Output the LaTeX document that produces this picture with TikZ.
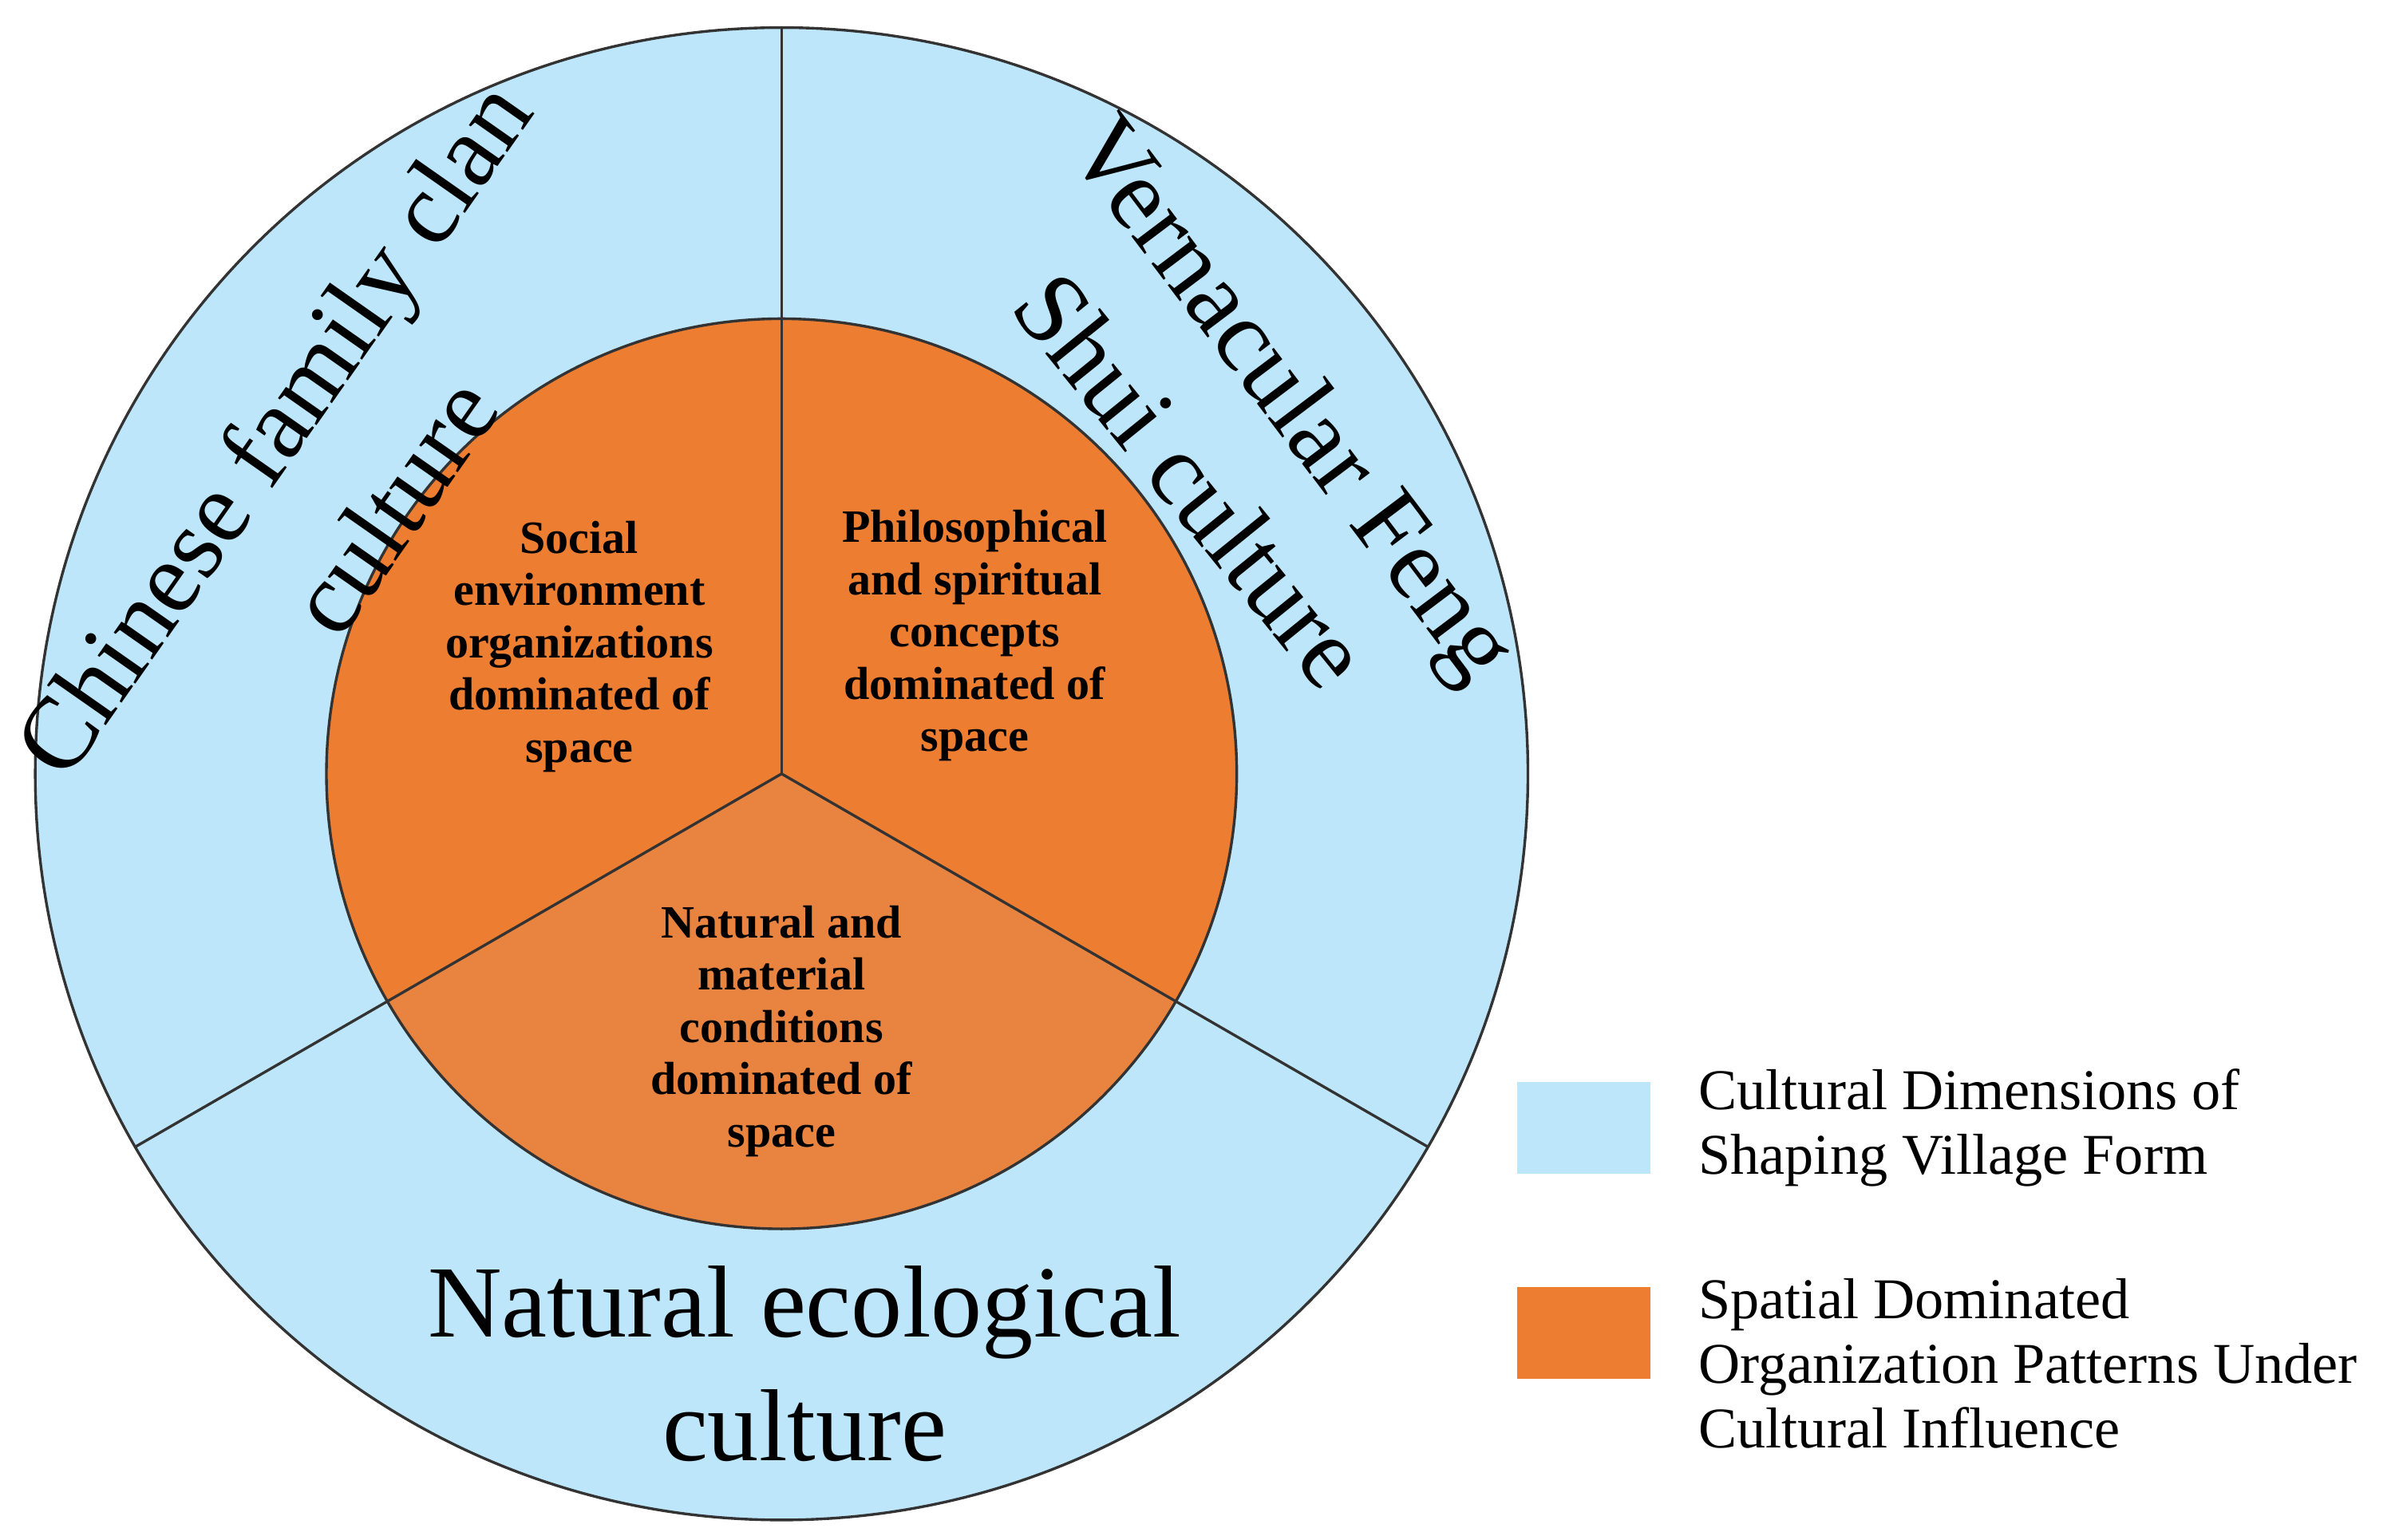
\documentclass[tikz,border=0pt]{standalone}
\usepackage{fontspec}
\setmainfont{Liberation Serif}
\definecolor{lblue}{RGB}{189,230,250}
\definecolor{orA}{RGB}{236,125,49}
\definecolor{orB}{RGB}{232,132,64}
\begin{document}
\begin{tikzpicture}[x=0.01cm,y=0.01cm,
  sep/.style={draw=black!80,line width=0.5pt},
  big/.style={font=\fontsize{19}{23}\selectfont,align=center},
  inner/.style={font=\fontsize{8.6}{9.7}\selectfont\bfseries,align=center},
  leg/.style={font=\fontsize{10.7}{12}\selectfont,align=left,anchor=west}]
\useasboundingbox (0,0) rectangle (1568,1005);
\coordinate (c) at (510,500);
\fill[lblue] (c) circle (487);
\fill[orA] (c) -- ++(90:297) arc (90:210:297) -- cycle;
\fill[orA] (c) -- ++(-30:297) arc (-30:90:297) -- cycle;
\fill[orB] (c) -- ++(210:297) arc (210:330:297) -- cycle;
\draw[sep] (c) circle (487);
\draw[sep] (c) circle (297);
\draw[sep] (c) -- ++(90:487) coordinate (t);
\draw[sep] (c) -- ++(210:487) coordinate (l);
\draw[sep] (c) -- ++(330:487) coordinate (r);
\node[big,rotate=55] (a1) at (183,722) {Chinese family clan};
\node[big,rotate=55] (a2) at (256,675) {culture};
\node[big,rotate=-53] (b1) at (840,742) {Vernacular Feng};
\node[big,rotate=-51] (b2) at (778,692) {Shui culture};
\node[big] (n1) at (525,115) {Natural ecological\\culture};
\node[inner] (i1) at (378,583) {Social\\environment\\organizations\\dominated of\\space};
\node[inner] (i2) at (636,590) {Philosophical\\and spiritual\\concepts\\dominated of\\space};
\node[inner] (i3) at (510,332) {Natural and\\material\\conditions\\dominated of\\space};
\node[fill=lblue,minimum width=87*0.01cm,minimum height=60*0.01cm,inner sep=0] (lb) at (1033.5,269) {};
\node[fill=orA,minimum width=87*0.01cm,minimum height=60*0.01cm,inner sep=0] (lo) at (1033.5,135) {};
\node[leg] (tb) at (1096,269) {Cultural Dimensions of\\Shaping Village Form};
\node[leg] (to) at (1096,115) {Spatial Dominated\\Organization Patterns Under\\Cultural Influence};
\end{tikzpicture}
\end{document}
